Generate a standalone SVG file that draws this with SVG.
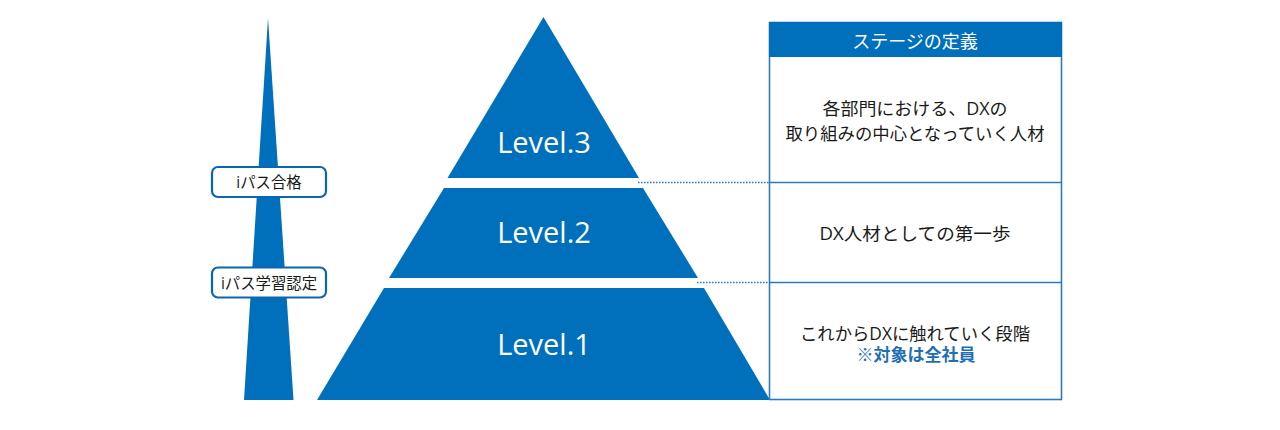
<svg xmlns="http://www.w3.org/2000/svg" width="1280" height="430" viewBox="0 0 1280 430">
<style>
text{font-family:"Open Sans","Noto Sans CJK JP","Liberation Sans",sans-serif;text-anchor:middle;fill:#1a1a1a}
.f{fill:#0170bc}
.lv{font-size:29px;fill:#fff}
.d{font-size:17.5px}
.t{font-size:15.400px}
.b{fill:#fff;stroke:#0a66ad;stroke-width:2.2}
.l{stroke:#2a7cbc;stroke-width:1.6;fill:none}
.p{stroke:#2a7cbc;stroke-width:1.6;stroke-dasharray:1.6 1.4;fill:none}
</style>
<rect width="1280" height="430" fill="#fff"/>
<g id="spire"><polygon class="f" points="268,18 244,400 293.500,400"/></g>
<g id="tag-ipass-pass"><rect class="b" x="212" y="167" width="114" height="30" rx="6"/><text class="t" x="269" y="187.500">iパス合格</text></g>
<g id="tag-ipass-study"><rect class="b" x="212" y="267.500" width="114" height="30" rx="6"/><text class="t" x="269" y="288.500">iパス学習認定</text></g>
<g id="level3"><polygon class="f" points="543.500,17 639,178 447.500,178"/><text class="lv" x="544" y="153">Level.3</text></g>
<g id="level2"><polygon class="f" points="444,188 643,188 698,278 389,278"/><text class="lv" x="544" y="243">Level.2</text></g>
<g id="level1"><polygon class="f" points="384,288 704,288 770,400 317,400"/><text class="lv" x="544" y="355">Level.1</text></g>
<g id="definition-table">
<rect x="769.500" y="22.500" width="292" height="377" fill="#fff" stroke="#2a7cbc" stroke-width="1.6"/>
<rect class="f" x="769" y="22" width="293" height="35"/>
<text x="915" y="48" style="font-size:18px;fill:#fff">ステージの定義</text>
</g>
<g id="stage3"><text class="d" x="915" y="115" textLength="185" lengthAdjust="spacingAndGlyphs">各部門における、DXの</text><text class="d" x="915" y="140" textLength="259" lengthAdjust="spacingAndGlyphs">取り組みの中心となっていく人材</text></g>
<g id="stage2"><text class="d" x="915" y="240" textLength="191" lengthAdjust="spacingAndGlyphs">DX人材としての第一歩</text></g>
<g id="stage1"><text class="d" x="915" y="340" textLength="230" lengthAdjust="spacingAndGlyphs">これからDXに触れていく段階</text><text x="916" y="361" style="font-size:17px;font-weight:700;fill:#1f6fb5">※対象は全社員</text></g>
<g id="connectors">
<path class="l" d="M770 182.500H1061M770 282.500H1061"/>
<path class="p" d="M638 182.500H770M697 282.500H770"/>
</g>
</svg>
